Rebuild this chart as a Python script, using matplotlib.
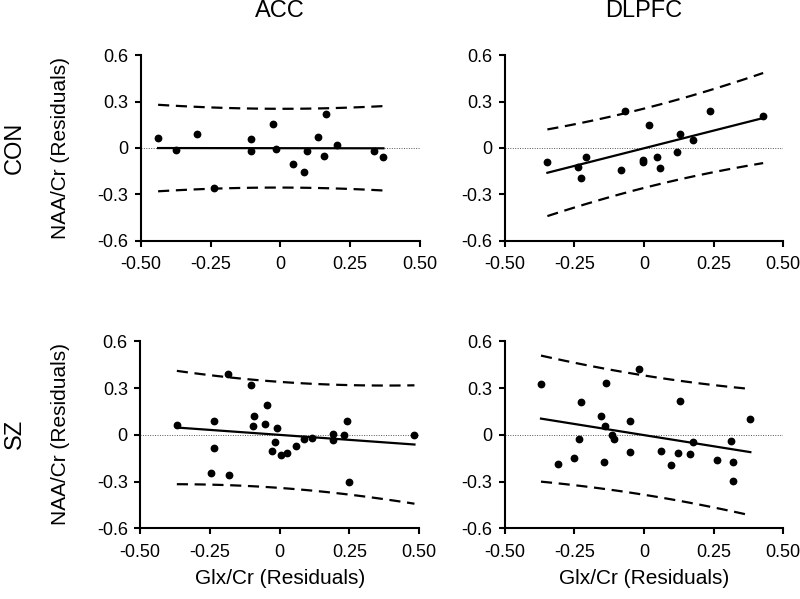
import matplotlib.pyplot as plt
import numpy as np

plt.rcParams['font.family'] = ['Liberation Sans', 'DejaVu Sans']
plt.rcParams['font.size'] = 13

# CON / ACC
con_acc_x = [-0.438, -0.375, -0.298, -0.238, -0.105, -0.105, -0.025, -0.015, 0.044,
             0.083, 0.094, 0.135, 0.156, 0.162, 0.201, 0.335, 0.369]
con_acc_y = [0.065, -0.015, 0.088, -0.257, 0.058, -0.017, 0.155, -0.004, -0.104,
             -0.155, -0.022, 0.071, -0.052, 0.222, 0.017, -0.017, -0.058]
# CON / DLPFC
con_dl_x = [-0.347, -0.238, -0.226, -0.210, -0.084, -0.069, -0.005, -0.002, 0.017,
            0.048, 0.056, 0.120, 0.129, 0.175, 0.236, 0.428]
con_dl_y = [-0.090, -0.126, -0.195, -0.058, -0.144, 0.238, -0.092, -0.075, 0.148,
            -0.060, -0.129, -0.028, 0.092, 0.054, 0.238, 0.208]
# SZ / ACC
sz_acc_x = [-0.368, -0.234, -0.234, -0.245, -0.185, -0.183, -0.104, -0.093, -0.096,
            -0.053, -0.045, -0.010, -0.017, -0.029, 0.005, 0.026, 0.059, 0.086,
            0.117, 0.191, 0.193, 0.230, 0.243, 0.248, 0.483]
sz_acc_y = [0.063, 0.086, -0.086, -0.246, 0.392, -0.259, 0.322, 0.118, 0.055,
            0.067, 0.194, 0.044, -0.048, -0.103, -0.128, -0.116, -0.069, -0.025,
            -0.019, 0.006, -0.034, 0.000, 0.088, -0.303, 0.002]
# SZ / DLPFC
sz_dl_x = [-0.370, -0.310, -0.252, -0.227, -0.232, -0.155, -0.143, -0.140, -0.135,
           -0.116, -0.109, -0.052, -0.052, -0.019, 0.062, 0.097, 0.123, 0.128,
           0.165, 0.177, 0.263, 0.313, 0.321, 0.321, 0.382]
sz_dl_y = [0.328, -0.189, -0.146, 0.214, -0.026, 0.118, -0.176, 0.054, 0.332,
           0.000, -0.028, 0.090, -0.109, 0.424, -0.105, -0.191, -0.118, 0.219,
           -0.124, -0.045, -0.159, -0.041, -0.174, -0.296, 0.099]

col_titles = ['ACC', 'DLPFC']
row_titles = ['CON', 'SZ']
yticks = [0.6, 0.3, 0, -0.3, -0.6]
ytick_labels = ['0.6', '0.3', '0', '-0.3', '-0.6']
xticks = [-0.5, -0.25, 0, 0.25, 0.5]
xtick_labels = ['-0.50', '-0.25', '0', '0.25', '0.50']

t975 = {14: 2.145, 15: 2.131, 23: 2.069}


def draw_panel(ax, xs, ys):
    x = np.array(xs)
    y = np.array(ys)
    n = len(x)
    b, a = np.polyfit(x, y, 1)
    s = np.sqrt(np.sum((y - (a + b * x)) ** 2) / (n - 2))
    xg = np.linspace(x.min(), x.max(), 100)
    yg = a + b * xg
    hw = t975[n - 2] * s * np.sqrt(1 + 1 / n + (xg - x.mean()) ** 2 / np.sum((x - x.mean()) ** 2))
    ax.axhline(0, color='#555555', lw=0.7, ls=(0, (1, 1.5)), zorder=1)
    ax.plot(xg, yg, color='black', lw=1.6, zorder=3)
    ax.plot(xg, yg + hw, color='black', lw=1.6, ls=(0, (5, 3)), zorder=3)
    ax.plot(xg, yg - hw, color='black', lw=1.6, ls=(0, (5, 3)), zorder=3)
    ax.plot(x, y, 'o', color='black', ms=4.6, zorder=4)
    ax.set_xlim(-0.5, 0.5)
    ax.set_ylim(-0.6, 0.6)
    ax.set_xticks(xticks)
    ax.set_xticklabels(xtick_labels)
    ax.set_yticks(yticks)
    ax.set_yticklabels(ytick_labels)
    ax.spines['top'].set_visible(False)
    ax.spines['right'].set_visible(False)
    ax.spines['left'].set_linewidth(1.5)
    ax.spines['bottom'].set_linewidth(1.5)
    ax.tick_params(width=1.5, length=4.3, labelsize=13, color='black')
    ax.tick_params(axis='x', pad=7)
    ax.tick_params(axis='y', pad=4.5)


fig = plt.figure(figsize=(8, 5.99), dpi=100)
ax1 = fig.add_axes([0.176, 0.598, 0.349, 0.310])
ax2 = fig.add_axes([0.631, 0.598, 0.348, 0.310])
ax3 = fig.add_axes([0.175, 0.118, 0.349, 0.312])
ax4 = fig.add_axes([0.631, 0.118, 0.348, 0.312])

draw_panel(ax1, con_acc_x, con_acc_y)
draw_panel(ax2, con_dl_x, con_dl_y)
draw_panel(ax3, sz_acc_x, sz_acc_y)
draw_panel(ax4, sz_dl_x, sz_dl_y)

# column titles
fig.text(280 / 800, 1 - 11 / 599, col_titles[0], fontsize=17, ha='center', va='center')
fig.text(644 / 800, 1 - 11 / 599, col_titles[1], fontsize=17, ha='center', va='center')

# row titles
fig.text(15 / 800, 1 - 148 / 599, row_titles[0], rotation=90, fontsize=17, ha='center', va='center')
fig.text(15 / 800, 1 - 434 / 599, row_titles[1], rotation=90, fontsize=17, ha='center', va='center')

# axis labels
for yc in (148, 434):
    fig.text(60 / 800, 1 - yc / 599, 'NAA/Cr (Residuals)', rotation=90, fontsize=15,
             ha='center', va='center')
for xc in (280, 644):
    fig.text(xc / 800, 1 - 579 / 599, 'Glx/Cr (Residuals)', fontsize=15,
             ha='center', va='center')

plt.savefig('out.png')
